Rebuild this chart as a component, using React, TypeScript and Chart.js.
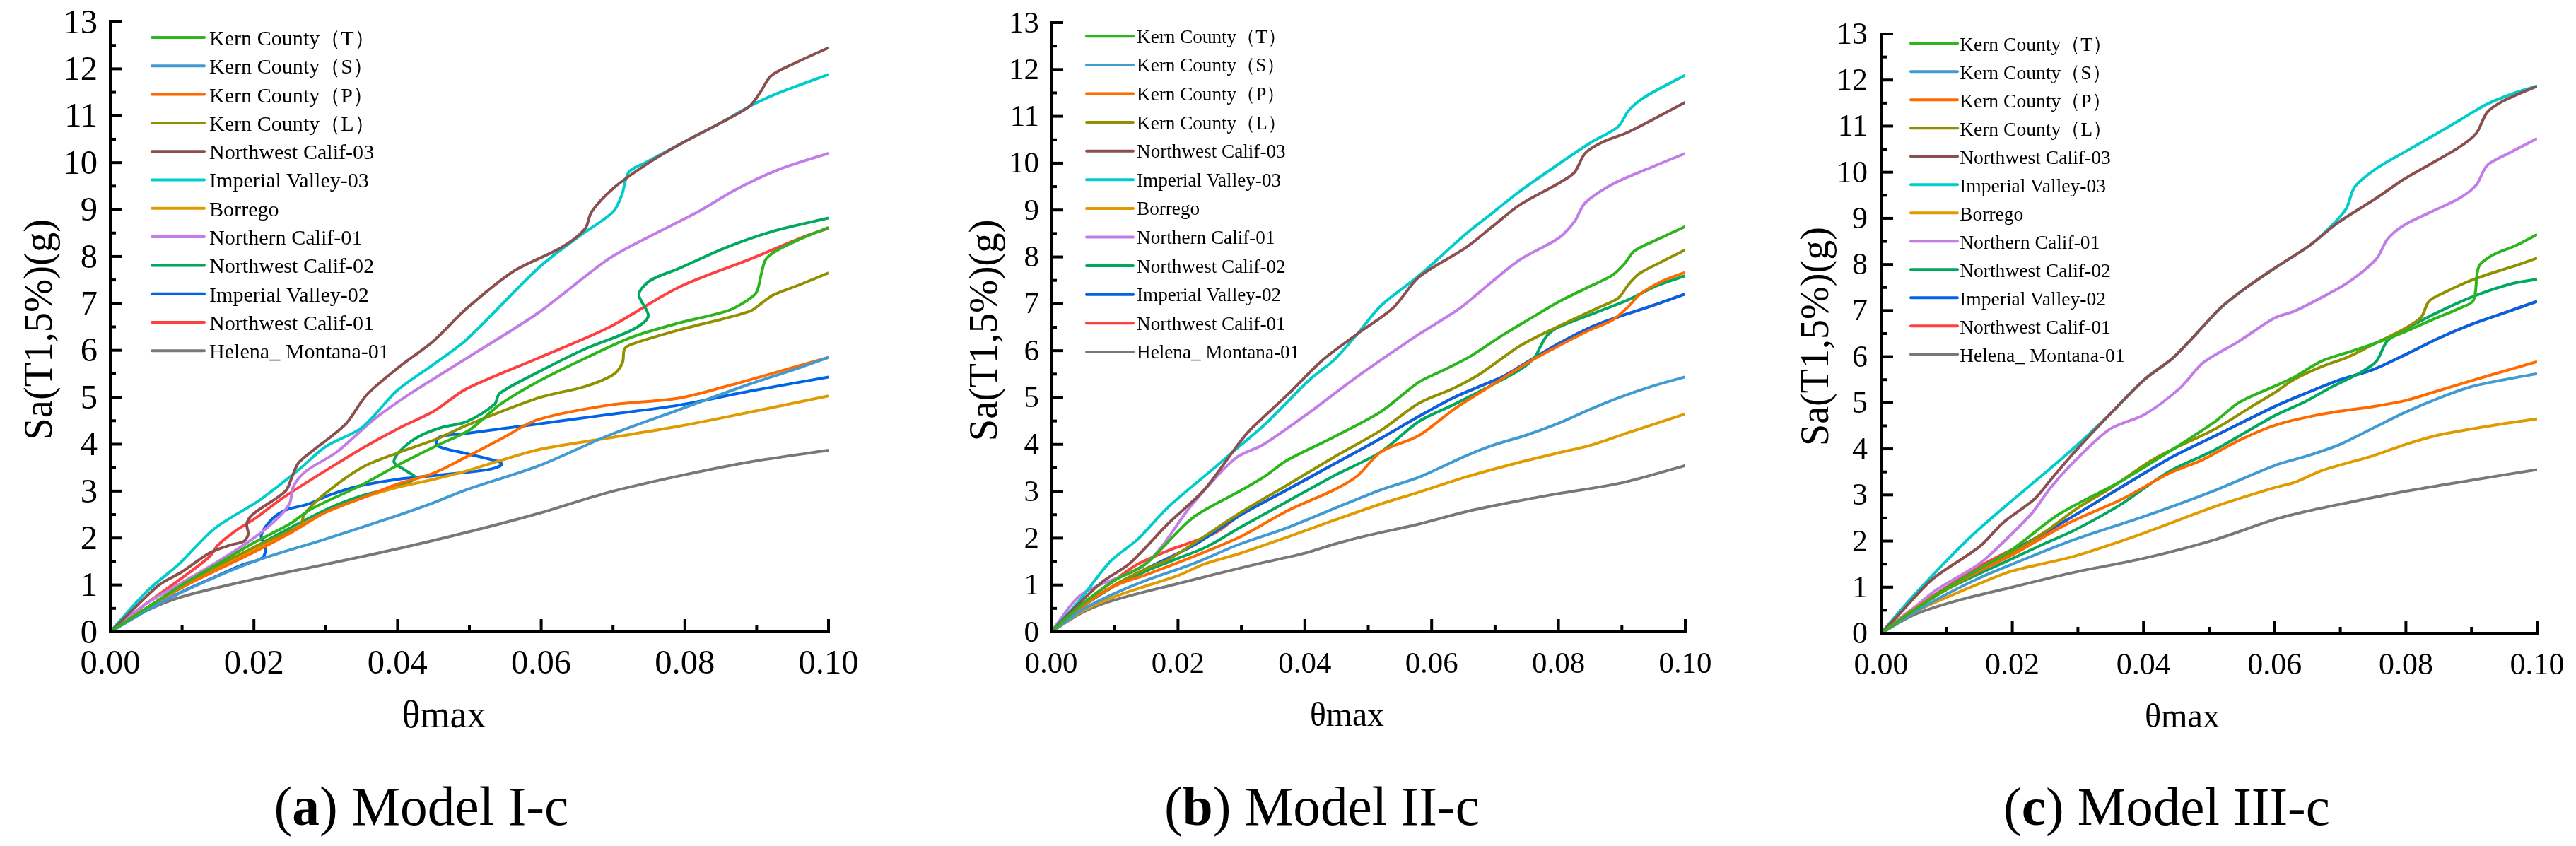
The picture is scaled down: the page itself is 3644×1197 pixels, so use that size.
import { useEffect, useRef, useState } from "react";
import { Chart, registerables } from "chart.js";

Chart.register(...registerables);

type Pt = [number, number];

const SERIES_NAMES = [
  "Kern County（T）",
  "Kern County（S）",
  "Kern County（P）",
  "Kern County（L）",
  "Northwest Calif-03",
  "Imperial Valley-03",
  "Borrego",
  "Northern Calif-01",
  "Northwest Calif-02",
  "Imperial Valley-02",
  "Northwest Calif-01",
  "Helena_ Montana-01",
];

const SERIES_COLORS = [
  "#2cb51c",
  "#419bd2",
  "#ff6a00",
  "#909000",
  "#8b4f4f",
  "#00cccc",
  "#e09b00",
  "#c27ee6",
  "#00a860",
  "#0064e6",
  "#ff4040",
  "#787878",
];

const X_TICKS = [0, 0.02, 0.04, 0.06, 0.08, 0.1];
const Y_TICKS = [0, 1, 2, 3, 4, 5, 6, 7, 8, 9, 10, 11, 12, 13];

// ---- (a) Model I-c ----
const A_KERN_T: Pt[] = [[0,0],[0.005,0.5],[0.01,1.0],[0.015,1.45],[0.02,1.9],[0.025,2.3],[0.028,2.62],[0.035,3.13],[0.04,3.55],[0.0456,3.98],[0.05,4.3],[0.0542,4.84],[0.0595,5.33],[0.0661,5.83],[0.0726,6.28],[0.0791,6.58],[0.0857,6.83],[0.0878,6.98],[0.0899,7.22],[0.0906,7.6],[0.0912,7.92],[0.0925,8.1],[0.0956,8.34],[0.1,8.62]];
const A_KERN_S: Pt[] = [[0,0],[0.005,0.45],[0.01,0.85],[0.02,1.5],[0.03,1.98],[0.04,2.48],[0.045,2.75],[0.0496,3.03],[0.0595,3.53],[0.0693,4.18],[0.0791,4.73],[0.089,5.28],[0.095,5.58],[0.1,5.85]];
const A_KERN_P: Pt[] = [[0,0],[0.005,0.5],[0.01,0.95],[0.02,1.7],[0.025,2.1],[0.03,2.55],[0.035,2.85],[0.04,3.15],[0.045,3.38],[0.0496,3.73],[0.0545,4.12],[0.0595,4.52],[0.0693,4.83],[0.0791,4.98],[0.0857,5.23],[0.092,5.5],[0.1,5.85]];
const A_KERN_L: Pt[] = [[0,0],[0.005,0.5],[0.01,1.0],[0.02,1.8],[0.025,2.15],[0.0265,2.25],[0.027,2.5],[0.0297,2.92],[0.035,3.5],[0.0403,3.83],[0.0456,4.12],[0.0496,4.4],[0.0595,4.98],[0.0661,5.23],[0.07,5.48],[0.0713,5.73],[0.0716,6.03],[0.0726,6.13],[0.0791,6.43],[0.089,6.83],[0.0909,7.03],[0.0923,7.18],[0.096,7.4],[0.1,7.65]];
const A_NW_03: Pt[] = [[0,0],[0.003,0.45],[0.0068,1.0],[0.01,1.28],[0.0138,1.68],[0.0167,1.85],[0.0186,1.93],[0.0192,2.08],[0.019,2.3],[0.0198,2.5],[0.0244,3.0],[0.0253,3.3],[0.0262,3.6],[0.0285,3.9],[0.0304,4.12],[0.0329,4.45],[0.0357,5.05],[0.04,5.62],[0.045,6.2],[0.0496,6.89],[0.0562,7.69],[0.0628,8.19],[0.0661,8.59],[0.067,8.95],[0.07,9.45],[0.075,10.0],[0.08,10.45],[0.085,10.85],[0.089,11.2],[0.0905,11.5],[0.092,11.85],[0.095,12.1],[0.1,12.45]];
const A_IV_03: Pt[] = [[0,0],[0.005,0.85],[0.0096,1.45],[0.0145,2.2],[0.0209,2.82],[0.0262,3.45],[0.03,3.95],[0.035,4.35],[0.04,5.15],[0.045,5.7],[0.0496,6.23],[0.0595,7.74],[0.065,8.4],[0.07,8.95],[0.0712,9.3],[0.0722,9.8],[0.0745,10.0],[0.08,10.45],[0.085,10.85],[0.089,11.2],[0.092,11.42],[0.095,11.6],[0.1,11.88]];
const A_BORREGO: Pt[] = [[0,0],[0.005,0.5],[0.01,0.95],[0.02,1.75],[0.025,2.15],[0.03,2.55],[0.035,2.85],[0.04,3.08],[0.045,3.25],[0.0496,3.43],[0.0595,3.88],[0.0693,4.13],[0.0791,4.38],[0.089,4.68],[0.1,5.03]];
const A_NC_01: Pt[] = [[0,0],[0.005,0.6],[0.01,1.05],[0.015,1.5],[0.02,2.0],[0.0235,2.45],[0.025,2.75],[0.0255,3.1],[0.0272,3.42],[0.0315,3.83],[0.0368,4.54],[0.042,5.1],[0.0496,5.83],[0.0595,6.79],[0.0693,7.94],[0.075,8.42],[0.0818,8.95],[0.087,9.42],[0.093,9.85],[0.1,10.2]];
const A_NW_02: Pt[] = [[0,0],[0.005,0.5],[0.01,0.95],[0.02,1.8],[0.03,2.6],[0.035,2.9],[0.04,3.1],[0.0425,3.28],[0.041,3.45],[0.0395,3.62],[0.0403,3.85],[0.0428,4.15],[0.046,4.35],[0.0496,4.48],[0.0535,4.85],[0.0542,5.08],[0.0595,5.53],[0.0661,6.03],[0.0726,6.43],[0.0749,6.73],[0.0736,7.19],[0.0752,7.49],[0.0791,7.74],[0.0857,8.19],[0.0923,8.54],[0.1,8.82]];
const A_IV_02: Pt[] = [[0,0],[0.005,0.45],[0.0099,0.85],[0.015,1.2],[0.0182,1.42],[0.0212,1.58],[0.0216,1.8],[0.021,2.05],[0.0225,2.4],[0.0245,2.6],[0.0275,2.72],[0.0306,2.92],[0.0344,3.1],[0.04,3.25],[0.045,3.33],[0.0496,3.4],[0.053,3.47],[0.0545,3.56],[0.0542,3.62],[0.0496,3.8],[0.0455,3.97],[0.0458,4.15],[0.0496,4.23],[0.0595,4.43],[0.0693,4.63],[0.0791,4.83],[0.089,5.13],[0.1,5.43]];
const A_NW_01: Pt[] = [[0,0],[0.005,0.6],[0.01,1.15],[0.0138,1.6],[0.015,1.85],[0.0174,2.15],[0.02,2.4],[0.0237,2.82],[0.0275,3.2],[0.0315,3.58],[0.0355,3.95],[0.0403,4.35],[0.045,4.7],[0.0496,5.18],[0.0595,5.83],[0.0693,6.48],[0.0791,7.34],[0.089,7.94],[0.0969,8.44],[0.1,8.6]];
const A_HELENA: Pt[] = [[0,0],[0.005,0.45],[0.01,0.75],[0.02,1.12],[0.03,1.44],[0.04,1.77],[0.0496,2.12],[0.0595,2.52],[0.0693,2.97],[0.0791,3.32],[0.089,3.62],[0.1,3.87]];

// ---- (b) Model II-c ----
const B_KERN_T: Pt[] = [[0,0],[0.005,0.6],[0.01,1.1],[0.0149,1.45],[0.0223,2.43],[0.0297,3.0],[0.0335,3.3],[0.0372,3.66],[0.0446,4.16],[0.052,4.7],[0.058,5.33],[0.0618,5.58],[0.0661,5.88],[0.0713,6.34],[0.0756,6.69],[0.08,7.04],[0.0851,7.38],[0.0885,7.61],[0.0903,7.84],[0.092,8.13],[0.0954,8.36],[0.1,8.65]];
const B_KERN_S: Pt[] = [[0,0],[0.005,0.48],[0.01,0.82],[0.015,1.1],[0.0223,1.45],[0.0297,1.87],[0.0372,2.22],[0.0446,2.63],[0.052,3.03],[0.058,3.3],[0.0653,3.75],[0.0696,3.98],[0.075,4.2],[0.08,4.45],[0.085,4.75],[0.09,5.02],[0.095,5.25],[0.1,5.44]];
const B_KERN_P: Pt[] = [[0,0],[0.005,0.55],[0.01,0.98],[0.015,1.22],[0.0223,1.6],[0.0297,2.02],[0.0372,2.58],[0.0446,3.03],[0.0483,3.33],[0.052,3.84],[0.058,4.19],[0.0635,4.75],[0.0678,5.12],[0.0713,5.42],[0.0756,5.78],[0.08,6.1],[0.0851,6.45],[0.0885,6.65],[0.0911,6.95],[0.0928,7.2],[0.0963,7.48],[0.1,7.67]];
const B_KERN_L: Pt[] = [[0,0],[0.005,0.55],[0.01,1.0],[0.015,1.35],[0.0186,1.55],[0.0297,2.53],[0.0372,3.13],[0.0446,3.73],[0.052,4.3],[0.058,4.88],[0.0635,5.2],[0.0678,5.52],[0.0739,6.1],[0.08,6.52],[0.086,6.9],[0.0894,7.12],[0.0911,7.42],[0.0928,7.65],[0.0963,7.9],[0.1,8.15]];
const B_NW_03: Pt[] = [[0,0],[0.004,0.55],[0.0081,1.07],[0.0123,1.45],[0.0186,2.33],[0.0242,3.04],[0.0297,4.04],[0.0316,4.34],[0.0372,5.05],[0.0428,5.8],[0.0483,6.36],[0.0539,6.91],[0.058,7.57],[0.0653,8.19],[0.0696,8.65],[0.0739,9.11],[0.08,9.57],[0.0825,9.8],[0.0842,10.21],[0.0868,10.44],[0.0911,10.67],[0.1,11.3]];
const B_IV_03: Pt[] = [[0,0],[0.0044,0.66],[0.0093,1.5],[0.0136,1.97],[0.0186,2.68],[0.026,3.53],[0.029,3.88],[0.0335,4.4],[0.0372,4.9],[0.0409,5.4],[0.0446,5.8],[0.0483,6.36],[0.052,6.96],[0.058,7.6],[0.0653,8.48],[0.0696,8.94],[0.0739,9.4],[0.08,9.98],[0.0851,10.44],[0.0894,10.78],[0.0911,11.13],[0.0937,11.42],[0.1,11.88]];
const B_BORREGO: Pt[] = [[0,0],[0.005,0.45],[0.01,0.75],[0.015,0.98],[0.02,1.2],[0.0242,1.45],[0.0297,1.67],[0.0372,2.02],[0.0446,2.38],[0.052,2.73],[0.058,2.98],[0.0653,3.3],[0.0739,3.62],[0.08,3.82],[0.085,3.98],[0.091,4.25],[0.1,4.65]];
const B_NC_01: Pt[] = [[0,0],[0.0049,0.81],[0.0149,1.45],[0.0223,2.73],[0.029,3.7],[0.0335,4.0],[0.0409,4.7],[0.0483,5.45],[0.058,6.35],[0.0644,6.9],[0.0696,7.48],[0.0739,7.94],[0.08,8.4],[0.0825,8.75],[0.0842,9.15],[0.0885,9.55],[0.0937,9.86],[0.1,10.21]];
const B_NW_02: Pt[] = [[0,0],[0.005,0.55],[0.01,0.98],[0.015,1.3],[0.0191,1.52],[0.0246,1.82],[0.0297,2.22],[0.0372,2.78],[0.0446,3.33],[0.052,3.84],[0.058,4.49],[0.0635,4.85],[0.07,5.3],[0.074,5.6],[0.0762,5.85],[0.0772,6.1],[0.0782,6.32],[0.08,6.5],[0.0868,6.86],[0.0911,7.09],[0.0954,7.38],[0.1,7.6]];
const B_IV_02: Pt[] = [[0,0],[0.005,0.55],[0.01,0.98],[0.015,1.35],[0.0228,1.87],[0.0297,2.48],[0.0372,3.03],[0.0446,3.58],[0.052,4.13],[0.058,4.6],[0.0635,5.0],[0.0678,5.25],[0.0713,5.45],[0.0756,5.8],[0.08,6.15],[0.0851,6.5],[0.0894,6.72],[0.0946,6.95],[0.1,7.21]];
const B_NW_01: Pt[] = [[0,0],[0.005,0.6],[0.01,1.1],[0.0136,1.44],[0.0191,1.77],[0.0208,1.85],[0.026,2.12],[0.0297,2.48],[0.0372,3.03],[0.0446,3.58],[0.052,4.13],[0.058,4.6],[0.0635,5.0],[0.0678,5.25],[0.0713,5.45],[0.0756,5.8],[0.08,6.15],[0.0851,6.5],[0.0894,6.72],[0.0946,6.95],[0.1,7.21]];
const B_HELENA: Pt[] = [[0,0],[0.005,0.42],[0.01,0.68],[0.02,1.03],[0.0316,1.42],[0.04,1.68],[0.0446,1.87],[0.05,2.06],[0.058,2.3],[0.0653,2.56],[0.0739,2.8],[0.08,2.95],[0.09,3.18],[0.1,3.55]];

// ---- (c) Model III-c ----
const C_KERN_T: Pt[] = [[0,0],[0.005,0.5],[0.01,0.98],[0.015,1.4],[0.02,1.82],[0.0272,2.59],[0.0366,3.3],[0.0438,3.93],[0.0509,4.59],[0.0545,5.0],[0.06,5.36],[0.0629,5.55],[0.0671,5.9],[0.0713,6.1],[0.0755,6.3],[0.0797,6.53],[0.084,6.8],[0.0882,7.05],[0.0903,7.22],[0.0911,7.95],[0.0932,8.2],[0.0966,8.4],[0.1,8.65]];
const C_KERN_S: Pt[] = [[0,0],[0.005,0.45],[0.01,0.85],[0.015,1.2],[0.02,1.5],[0.0294,2.03],[0.0402,2.54],[0.0509,3.1],[0.06,3.64],[0.065,3.85],[0.07,4.1],[0.075,4.45],[0.08,4.8],[0.085,5.1],[0.09,5.35],[0.095,5.5],[0.1,5.63]];
const C_KERN_P: Pt[] = [[0,0],[0.005,0.52],[0.01,0.98],[0.015,1.35],[0.02,1.7],[0.0286,2.39],[0.0366,2.9],[0.0438,3.46],[0.0491,3.77],[0.0545,4.18],[0.06,4.51],[0.0671,4.75],[0.0755,4.93],[0.08,5.05],[0.084,5.22],[0.0924,5.58],[0.1,5.89]];
const C_KERN_L: Pt[] = [[0,0],[0.005,0.5],[0.01,0.95],[0.02,1.75],[0.025,2.2],[0.03,2.72],[0.035,3.15],[0.0418,3.8],[0.0509,4.43],[0.0563,4.9],[0.06,5.22],[0.0629,5.5],[0.0671,5.78],[0.0713,6.0],[0.0755,6.3],[0.0797,6.6],[0.0823,6.85],[0.0835,7.2],[0.0857,7.38],[0.089,7.6],[0.0924,7.78],[0.0966,7.97],[0.1,8.14]];
const C_NW_03: Pt[] = [[0,0],[0.003,0.45],[0.0078,1.17],[0.015,1.88],[0.0186,2.4],[0.0233,2.9],[0.0258,3.32],[0.0294,3.92],[0.0348,4.74],[0.0402,5.51],[0.0443,5.95],[0.0473,6.38],[0.0517,7.05],[0.0553,7.46],[0.06,7.92],[0.0654,8.42],[0.0696,8.9],[0.0755,9.44],[0.0797,9.85],[0.084,10.2],[0.0882,10.55],[0.0907,10.84],[0.0924,11.3],[0.0949,11.55],[0.1,11.87]];
const C_IV_03: Pt[] = [[0,0],[0.0046,0.76],[0.0096,1.52],[0.0143,2.18],[0.0193,2.8],[0.024,3.36],[0.0294,4.02],[0.0348,4.74],[0.0402,5.51],[0.0443,5.95],[0.0473,6.38],[0.0517,7.05],[0.0553,7.46],[0.06,7.92],[0.0654,8.42],[0.0688,8.86],[0.0709,9.21],[0.0722,9.68],[0.0755,10.08],[0.0797,10.43],[0.084,10.78],[0.0882,11.13],[0.0924,11.48],[0.0966,11.72],[0.1,11.87]];
const C_BORREGO: Pt[] = [[0,0],[0.005,0.45],[0.01,0.78],[0.015,1.08],[0.02,1.35],[0.0294,1.67],[0.0402,2.18],[0.0509,2.75],[0.06,3.16],[0.063,3.27],[0.067,3.52],[0.07,3.65],[0.075,3.85],[0.08,4.1],[0.085,4.3],[0.09,4.43],[0.095,4.55],[0.1,4.65]];
const C_NC_01: Pt[] = [[0,0],[0.005,0.55],[0.008,0.9],[0.0146,1.47],[0.0168,1.73],[0.0229,2.59],[0.0258,3.15],[0.0294,3.72],[0.0348,4.42],[0.0402,4.75],[0.0455,5.31],[0.0491,5.87],[0.0545,6.33],[0.06,6.84],[0.0629,6.98],[0.0671,7.28],[0.0713,7.62],[0.0755,8.12],[0.0772,8.55],[0.0797,8.85],[0.084,9.15],[0.0882,9.44],[0.0907,9.72],[0.0924,10.15],[0.0958,10.42],[0.1,10.73]];
const C_NW_02: Pt[] = [[0,0],[0.005,0.5],[0.01,0.95],[0.02,1.62],[0.025,1.95],[0.0294,2.23],[0.0366,2.8],[0.0438,3.5],[0.0509,3.98],[0.06,4.72],[0.0646,5.02],[0.0688,5.35],[0.073,5.65],[0.0755,5.9],[0.0772,6.35],[0.0806,6.65],[0.0857,7.02],[0.0907,7.33],[0.0958,7.57],[0.1,7.68]];
const C_IV_02: Pt[] = [[0,0],[0.005,0.52],[0.01,0.98],[0.02,1.78],[0.03,2.6],[0.0438,3.78],[0.0509,4.28],[0.06,4.92],[0.065,5.22],[0.07,5.5],[0.075,5.72],[0.08,6.05],[0.085,6.4],[0.09,6.7],[0.095,6.95],[0.1,7.2]];
const C_NW_01: Pt[] = [[0,0],[0.005,0.55],[0.01,1.0],[0.015,1.45],[0.02,1.82],[0.0235,2.05],[0.03,2.6],[0.0438,3.78],[0.0509,4.28],[0.06,4.92],[0.065,5.22],[0.07,5.5],[0.075,5.72],[0.08,6.05],[0.085,6.4],[0.09,6.7],[0.095,6.95],[0.1,7.2]];
const C_HELENA: Pt[] = [[0,0],[0.005,0.4],[0.0114,0.7],[0.02,1.0],[0.0294,1.32],[0.0402,1.63],[0.0509,2.03],[0.06,2.47],[0.065,2.65],[0.07,2.8],[0.08,3.08],[0.09,3.32],[0.1,3.55]];

const SERIES_A = [A_KERN_T, A_KERN_S, A_KERN_P, A_KERN_L, A_NW_03, A_IV_03, A_BORREGO, A_NC_01, A_NW_02, A_IV_02, A_NW_01, A_HELENA];
const SERIES_B = [B_KERN_T, B_KERN_S, B_KERN_P, B_KERN_L, B_NW_03, B_IV_03, B_BORREGO, B_NC_01, B_NW_02, B_IV_02, B_NW_01, B_HELENA];
const SERIES_C = [C_KERN_T, C_KERN_S, C_KERN_P, C_KERN_L, C_NW_03, C_IV_03, C_BORREGO, C_NC_01, C_NW_02, C_IV_02, C_NW_01, C_HELENA];

const FONT = '"Liberation Serif", "Times New Roman", serif';
const H = 1197;

type PanelCfg = {
  series: Pt[][];
  canvasX: number;
  canvasW: number;
  left: number;
  right: number;
  top: number;
  bottom: number;
  tickFont: number;
  tickW: number; // width of "0.00" in the reference
  xLabelCY: number;
  yPad: number;
  xTitleFont: number;
  xTitleW: number;
  xTitleDX: number;
  yTitleW: number;
  yTitleDX: number;
  legX: number;
  legLen: number;
  legTextX: number;
  legTop: number;
  legStep: number;
  legFont: number;
  legW: number; // width of "Northwest Calif-03" in the reference
  letter: string;
  caption: string;
  captionX: number;
  captionW: number;
};

const PANELS: PanelCfg[] = [
  {
    series: SERIES_A, canvasX: 0, canvasW: 1220,
    left: 156, right: 1172, top: 31, bottom: 894,
    tickFont: 48, tickW: 85, xLabelCY: 937, yPad: 18,
    xTitleFont: 54, xTitleW: 119, xTitleDX: -36, yTitleW: 313, yTitleDX: -102,
    legX: 215, legLen: 74, legTextX: 296, legTop: 53, legStep: 40.3, legFont: 31, legW: 233,
    letter: "a", caption: "Model I-c", captionX: 596, captionW: 417,
  },
  {
    series: SERIES_B, canvasX: 1220, canvasW: 1210,
    left: 1487, right: 2384, top: 32, bottom: 894,
    tickFont: 43, tickW: 75, xLabelCY: 938, yPad: 17,
    xTitleFont: 48, xTitleW: 105, xTitleDX: -30, yTitleW: 314, yTitleDX: -96,
    legX: 1537, legLen: 66, legTextX: 1608, legTop: 51.3, legStep: 40.6, legFont: 28, legW: 211,
    letter: "b", caption: "Model II-c", captionX: 1870, captionW: 446,
  },
  {
    series: SERIES_C, canvasX: 2430, canvasW: 1214,
    left: 2661, right: 3589, top: 48, bottom: 896,
    tickFont: 44, tickW: 77, xLabelCY: 940, yPad: 19,
    xTitleFont: 48, xTitleW: 106, xTitleDX: -38, yTitleW: 310, yTitleDX: -94,
    legX: 2703, legLen: 66, legTextX: 2772, legTop: 61.3, legStep: 40, legFont: 28, legW: 214,
    letter: "c", caption: "Model III-c", captionX: 3065, captionW: 462,
  },
];

const X_AXIS_H = 90;

type TickPos = {
  xs: { v: number; px: number }[];
  ys: { v: number; py: number }[];
  left: number;
  right: number;
  top: number;
  bottom: number;
};

type Sizes = { tick: number; leg: number; xTitle: number; yTitle: number; caption: number };

// size a string so that it spans the same width as in the reference
const fitSize = (html: string, base: number, target: number) => {
  const s = document.createElement("span");
  s.style.cssText = `position:absolute;left:-99999px;top:0;white-space:nowrap;font-family:${FONT};font-size:${base}px;`;
  s.innerHTML = html;
  document.body.appendChild(s);
  const w = s.getBoundingClientRect().width;
  document.body.removeChild(s);
  if (!w) return base;
  const k = Math.min(1.6, Math.max(0.7, target / w));
  return Math.round(base * k * 10) / 10;
};

const abs = (style: React.CSSProperties): React.CSSProperties => ({
  position: "absolute",
  fontFamily: FONT,
  color: "#000",
  whiteSpace: "nowrap",
  ...style,
});

const Panel = ({ cfg }: { cfg: PanelCfg }) => {
  const canvasRef = useRef<HTMLCanvasElement>(null);
  const [pos, setPos] = useState<TickPos | null>(null);
  const [sz, setSz] = useState<Sizes>({
    tick: cfg.tickFont,
    leg: cfg.legFont,
    xTitle: cfg.xTitleFont,
    yTitle: 56,
    caption: 78,
  });

  useEffect(() => {
    if (!canvasRef.current) return;

    // axes, inward ticks and legend swatches
    const decor = {
      id: "decor",
      afterDraw(c: any) {
        const ctx = c.ctx as CanvasRenderingContext2D;
        const area = c.chartArea;
        const xs = c.scales.x;
        const ys = c.scales.y;
        ctx.save();
        ctx.strokeStyle = "#000";
        ctx.lineWidth = 4;
        ctx.lineCap = "butt";
        for (let i = 0; i <= 10; i++) {
          const px = xs.getPixelForValue(i * 0.01);
          const len = i % 2 === 0 ? 18 : 9;
          ctx.beginPath();
          ctx.moveTo(px, area.bottom);
          ctx.lineTo(px, area.bottom - len);
          ctx.stroke();
        }
        for (let i = 0; i <= 26; i++) {
          const py = ys.getPixelForValue(i * 0.5);
          const len = i % 2 === 0 ? 17 : 8;
          ctx.beginPath();
          ctx.moveTo(area.left, py);
          ctx.lineTo(area.left + len, py);
          ctx.stroke();
        }
        ctx.lineCap = "square";
        ctx.beginPath();
        ctx.moveTo(area.left, area.top);
        ctx.lineTo(area.left, area.bottom);
        ctx.lineTo(area.right, area.bottom);
        ctx.stroke();

        ctx.lineCap = "round";
        SERIES_COLORS.forEach((col, i) => {
          const y = cfg.legTop + i * cfg.legStep;
          const x0 = cfg.legX - cfg.canvasX;
          ctx.strokeStyle = col;
          ctx.beginPath();
          ctx.moveTo(x0, y);
          ctx.lineTo(x0 + cfg.legLen, y);
          ctx.stroke();
        });
        ctx.restore();
      },
    };

    const chart = new Chart(canvasRef.current, {
      type: "line",
      data: {
        datasets: cfg.series.map((pts, i) => ({
          label: SERIES_NAMES[i],
          data: pts.map(([x, y]) => ({ x, y })),
          borderColor: SERIES_COLORS[i],
          backgroundColor: SERIES_COLORS[i],
          borderWidth: 4,
          pointRadius: 0,
          tension: 0.3,
          fill: false,
        })),
      },
      options: {
        responsive: false,
        animation: false,
        devicePixelRatio: 1,
        layout: {
          padding: {
            left: 0,
            top: cfg.top,
            right: cfg.canvasX + cfg.canvasW - cfg.right,
            bottom: H - cfg.bottom - X_AXIS_H,
          },
        },
        scales: {
          x: {
            type: "linear",
            min: 0,
            max: 0.1,
            afterBuildTicks: (scale: any) => {
              scale.ticks = X_TICKS.map((v) => ({ value: v }));
            },
            afterFit: (scale: any) => {
              scale.height = X_AXIS_H;
            },
            ticks: { display: false },
            grid: { display: false, drawTicks: false },
            border: { display: false },
          },
          y: {
            type: "linear",
            min: 0,
            max: 13,
            afterBuildTicks: (scale: any) => {
              scale.ticks = Y_TICKS.map((v) => ({ value: v }));
            },
            afterFit: (scale: any) => {
              scale.width = cfg.left - cfg.canvasX;
            },
            ticks: { display: false },
            grid: { display: false, drawTicks: false },
            border: { display: false },
          },
        },
        plugins: {
          legend: { display: false },
          tooltip: { enabled: false },
        },
      },
      plugins: [decor],
    });

    // tick label positions come from the chart's own scales
    const a = chart.chartArea;
    setPos({
      xs: X_TICKS.map((v) => ({ v, px: chart.scales.x.getPixelForValue(v) })),
      ys: Y_TICKS.map((v) => ({ v, py: chart.scales.y.getPixelForValue(v) })),
      left: a.left,
      right: a.right,
      top: a.top,
      bottom: a.bottom,
    });

    setSz({
      tick: fitSize("0.00", cfg.tickFont, cfg.tickW),
      leg: fitSize("Northwest Calif-03", cfg.legFont, cfg.legW),
      xTitle: fitSize("θmax", cfg.xTitleFont, cfg.xTitleW),
      yTitle: fitSize("Sa(T1,5%)(g)", 56, cfg.yTitleW),
      caption: fitSize(`(<b>${cfg.letter}</b>) ${cfg.caption}`, 78, cfg.captionW),
    });

    return () => {
      chart.destroy();
    };
  }, [cfg]);

  const ox = cfg.canvasX;
  const fs = sz.tick;

  return (
    <>
      <canvas
        ref={canvasRef}
        width={cfg.canvasW}
        height={H}
        style={{ position: "absolute", left: ox, top: 0, width: cfg.canvasW, height: H }}
      />
      {pos && (
        <>
          {pos.xs.map((t) => (
            <div
              key={"x" + t.v}
              style={abs({
                left: ox + t.px - 100,
                width: 200,
                top: cfg.xLabelCY - fs / 2,
                height: fs,
                lineHeight: `${fs}px`,
                fontSize: fs,
                textAlign: "center",
              })}
            >
              {t.v.toFixed(2)}
            </div>
          ))}
          {pos.ys.map((t) => (
            <div
              key={"y" + t.v}
              style={abs({
                left: ox + pos.left - cfg.yPad - 200,
                width: 200,
                top: t.py - fs / 2,
                height: fs,
                lineHeight: `${fs}px`,
                fontSize: fs,
                textAlign: "right",
              })}
            >
              {t.v}
            </div>
          ))}
          <div
            style={abs({
              left: ox + (pos.left + pos.right) / 2 + cfg.xTitleDX - 200,
              width: 400,
              top: pos.bottom + 117 - sz.xTitle / 2,
              height: sz.xTitle,
              lineHeight: `${sz.xTitle}px`,
              fontSize: sz.xTitle,
              textAlign: "center",
            })}
          >
            θmax
          </div>
          <div
            style={abs({
              left: ox + pos.left + cfg.yTitleDX - 300,
              width: 600,
              top: (pos.top + pos.bottom) / 2 + 4 - sz.yTitle / 2,
              height: sz.yTitle,
              lineHeight: `${sz.yTitle}px`,
              fontSize: sz.yTitle,
              textAlign: "center",
              transform: "rotate(-90deg)",
              transformOrigin: "50% 50%",
            })}
          >
            Sa(T1,5%)(g)
          </div>
          {SERIES_NAMES.map((name, i) => (
            <div
              key={name}
              style={abs({
                left: cfg.legTextX,
                top: cfg.legTop + i * cfg.legStep - sz.leg / 2 + 1,
                height: sz.leg,
                lineHeight: `${sz.leg}px`,
                fontSize: sz.leg,
              })}
            >
              {name}
            </div>
          ))}
        </>
      )}
      <div
        style={abs({
          left: cfg.captionX - 500,
          width: 1000,
          top: 1141 - 40,
          textAlign: "center",
          fontSize: sz.caption,
          lineHeight: "80px",
        })}
      >
        (<b>{cfg.letter}</b>) {cfg.caption}
      </div>
    </>
  );
};

export default function App() {
  return (
    <div
      style={{
        position: "fixed",
        left: 0,
        top: 0,
        width: 3644,
        height: H,
        background: "#fff",
        overflow: "hidden",
      }}
    >
      {PANELS.map((p) => (
        <Panel key={p.letter} cfg={p} />
      ))}
    </div>
  );
}
